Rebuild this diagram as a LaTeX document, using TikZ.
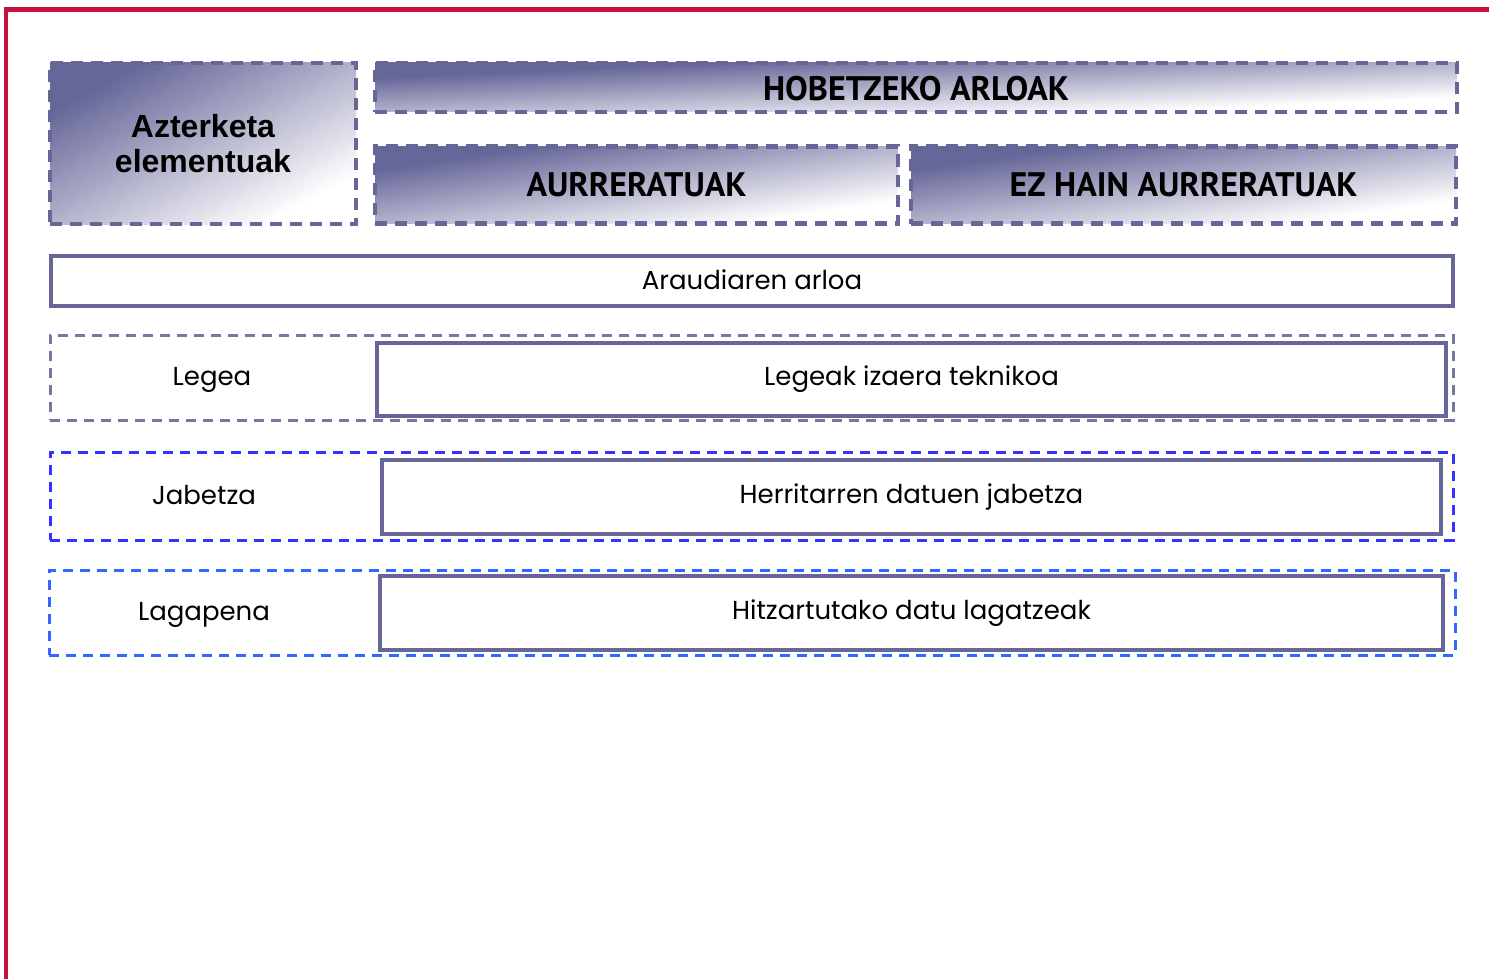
\documentclass[tikz,border=0pt]{standalone}
\usepackage{fontspec}
\setmainfont{Poppins}
\newfontfamily\azfont{Liberation Sans}
\newfontfamily\capfont{PT Sans}
\definecolor{frame}{HTML}{C8103C}
\definecolor{slate}{HTML}{666699}
\definecolor{rowA}{HTML}{77779F}
\definecolor{rowB}{HTML}{3333FF}
\definecolor{rowC}{HTML}{3366FF}
\tikzset{
  hdr/.style={draw=slate, line width=4.5pt, dash pattern=on 12pt off 8pt, inner sep=0pt, align=center},
  solidbox/.style={draw=slate, line width=3.5pt, fill=white, inner sep=0pt},
  rowbox/.style={line width=3pt, dash pattern=on 10pt off 7pt, inner sep=0pt},
  light/.style={font=\fontsize{26}{30}\selectfont},
  capt/.style={font=\capfont\bfseries\fontsize{34}{38}\selectfont},
}
\newcommand\gradrect[4]{%
  \shade[transform canvas={shift={(#1,#2)}, xscale=#3, yscale=#4},
    top color=slate, bottom color=white, shading angle=45] (0,0) rectangle (1,1);}
\begin{document}
\begin{tikzpicture}[x=1pt,y=-1pt]
\useasboundingbox (0,0) rectangle (1489,979);
\fill[white] (0,0) rectangle (1489,979);
% red frame
\coordinate (tl) at (6,9.5);
\coordinate (tr) at (1489,9.5);
\coordinate (bl) at (6,979);
\draw[frame, line width=4.5pt] (bl) -- (tl) -- (tr);
% gradients
\gradrect{50}{63}{306}{161}
\gradrect{375}{63}{1082}{49}
\gradrect{375}{146.5}{523}{77}
\gradrect{911}{146.5}{545}{77}
% headers
\node[hdr, minimum width=306, minimum height=161,
  font=\azfont\bfseries\fontsize{32}{35}\selectfont] (az) at (203,143.5)
  {Azterketa\\elementuak};
\node[hdr, minimum width=1082, minimum height=49] (hob) at (916,87.5) {};
\node[capt] (hobt) at (916,89) {HOBETZEKO ARLOAK};
\node[hdr, minimum width=523, minimum height=77, capt] (aur) at (636.5,185) {AURRERATUAK};
\node[hdr, minimum width=545, minimum height=77, capt] (ezh) at (1183.5,185) {EZ HAIN AURRERATUAK};
% araudia
\node[solidbox, minimum width=1402, minimum height=50, light] (ara) at (752,281) {\raisebox{2pt}{Araudiaren arloa}};
% rows
\node[rowbox, draw=rowA, minimum width=1403, minimum height=85] (r1) at (751.5,377.5) {};
\node[solidbox, minimum width=1069, minimum height=73, light] (r1b) at (911.5,379.5) {Legeak izaera teknikoa};
\node[light] (r1a) at (212,380) {Legea};
\node[rowbox, draw=rowB, minimum width=1403, minimum height=88] (r2) at (751.5,496) {};
\node[solidbox, minimum width=1059, minimum height=74, light] (r2b) at (911.5,497) {Herritarren datuen jabetza};
\node[light] (r2a) at (204,495) {Jabetza};
\node[rowbox, draw=rowC, minimum width=1406, minimum height=85] (r3) at (752,612.5) {};
\node[solidbox, minimum width=1063, minimum height=74, light] (r3b) at (911.5,613) {Hitzartutako datu lagatzeak};
\node[light] (r3a) at (204,615) {Lagapena};
\end{tikzpicture}
\end{document}
